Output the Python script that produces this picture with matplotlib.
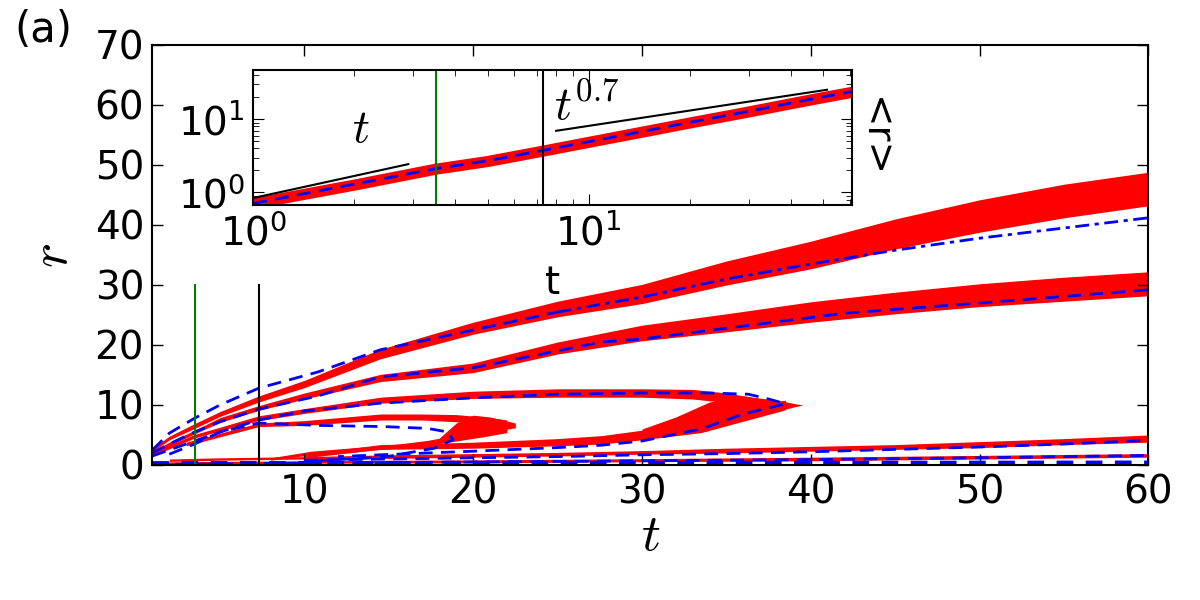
import numpy as np
import matplotlib
matplotlib.use("Agg")
import matplotlib.pyplot as plt

plt.rcParams['mathtext.fontset'] = 'cm'
plt.rcParams['xtick.direction'] = 'in'
plt.rcParams['ytick.direction'] = 'in'
plt.rcParams['xtick.top'] = True
plt.rcParams['ytick.right'] = True

# red particle bands: time, centre radius, half width
t_r1 = [1, 2, 3.5, 5, 7.3, 10, 14.5, 20, 25, 30, 35, 40, 45, 50, 55, 60]
r_r1 = [2.5, 4.5, 6.5, 8.5, 11, 13.5, 18.5, 22.8, 26, 28.5, 32, 35, 38.5, 41.5, 44, 46]
w_r1 = [0.3, 0.3, 0.4, 0.4, 0.5, 0.6, 0.8, 1.0, 1.3, 1.6, 2.0, 2.3, 2.5, 2.7, 2.8, 2.8]

t_r2 = [1, 2, 3.5, 5, 7.3, 10, 14.5, 20, 25, 30, 35, 40, 45, 50, 55, 60]
r_r2 = [2, 3.5, 5.5, 7.5, 9.5, 11.5, 14.5, 16.2, 19.5, 22, 23.7, 25.5, 27, 28.3, 29.3, 30.2]
w_r2 = [0.3, 0.3, 0.3, 0.4, 0.4, 0.5, 0.6, 0.8, 1.0, 1.3, 1.5, 1.7, 1.8, 1.9, 2.0, 2.0]

t_r3 = [1, 2, 3.5, 5, 7.3, 10, 14.5, 20, 25, 30, 33, 35, 36.5]
r_r3 = [1.8, 3, 4.8, 6, 7.8, 9, 10.8, 11.7, 12, 12, 11.8, 11.2, 10.5]
w_r3 = [0.3, 0.3, 0.3, 0.3, 0.4, 0.4, 0.5, 0.6, 0.7, 0.7, 0.8, 0.8, 0.8]

t_r3b = [10, 14.5, 20, 25, 27.6, 30, 33.5, 36, 38.5]
r_r3b = [1.5, 3, 3.3, 3.8, 4.2, 5, 6.4, 8.5, 10]
w_r3b = [0.3, 0.4, 0.5, 0.6, 0.7, 0.8, 1.0, 1.2, 0.8]

t_blob2 = [30, 32, 34, 36, 38, 39.5]
lo_blob2 = [5.5, 6.3, 7, 8, 9, 10]
hi_blob2 = [6.0, 8.0, 10.5, 11.5, 10.8, 10]

t_r4 = [3, 5, 7.3, 10, 14.5, 17, 19, 21, 22]
r_r4 = [3.5, 5, 6.7, 7, 8, 8, 7.8, 7.3, 7]
w_r4 = [0.3, 0.3, 0.3, 0.4, 0.5, 0.5, 0.6, 0.6, 0.5]

t_r4b = [8, 10.4, 13, 15, 17.3, 19, 20.6, 22]
r_r4b = [1, 2, 2.6, 3, 3.7, 4.5, 5.3, 6]
w_r4b = [0.2, 0.3, 0.3, 0.3, 0.4, 0.5, 0.6, 0.6]

t_blob1 = [18, 19, 20, 21, 22.5]
lo_blob1 = [4.0, 4.6, 5.0, 5.5, 6.2]
hi_blob1 = [4.5, 7.0, 8.3, 8.0, 7.0]

t_r5 = [2, 5, 10, 15, 20, 25, 30, 35, 40, 45, 50, 55, 60]
r_r5 = [0.8, 1, 1.2, 1.4, 1.6, 1.8, 2.1, 2.4, 2.7, 3.0, 3.4, 3.9, 4.4]
w_r5 = [0.2, 0.2, 0.2, 0.3, 0.3, 0.3, 0.3, 0.4, 0.4, 0.4, 0.5, 0.5, 0.6]

t_r6 = [1, 10, 20, 30, 40, 50, 60]
r_r6 = [0.3, 0.5, 0.6, 0.8, 1.0, 1.3, 1.6]
w_r6 = [0.2, 0.2, 0.25, 0.25, 0.3, 0.3, 0.3]

# blue mean-field curves
t_b1 = [1, 2, 3.5, 5, 7.3, 10.8, 14.5, 20, 25]
r_b1 = [2.5, 5.3, 7.8, 10, 12.8, 15.5, 19.2, 22.5, 25.5]
t_b1late = [25, 30, 35, 40, 45, 50, 55, 60]
r_b1late = [25.5, 28, 31, 33.5, 35.8, 37.8, 39.5, 41.2]

t_b2 = [1, 2, 3.5, 5, 7.3, 10.8, 14.5, 20, 27.6, 30, 35, 42, 50, 60]
r_b2 = [2, 3.5, 5.5, 7.2, 9.3, 11.5, 14.7, 16.2, 20.5, 21, 22.8, 25.3, 27, 29.2]

t_b3 = [1, 2, 3.5, 5, 7.3, 10, 14.5, 20, 25, 30, 34, 36.3, 37.5, 38.5, 36, 33.5, 30, 27.6, 25, 20, 14.5, 12]
r_b3 = [1.5, 2.5, 4, 5.5, 7.5, 9, 10.3, 11.2, 11.8, 12, 12, 11.8, 11, 10.2, 8.5, 6, 4, 3.3, 2.9, 2.3, 1.7, 1.4]

t_b4 = [2, 3.5, 5, 7.3, 10.8, 14.7, 17.3, 18.5, 18.8, 17.7, 14.7, 12, 10]
r_b4 = [1.8, 3.5, 5.5, 7.0, 6.6, 6.4, 6.1, 5.5, 4.2, 2.8, 1.3, 0.9, 0.6]

t_b5 = [10, 15, 20, 25, 30, 35, 40, 45, 50, 55, 60]
r_b5 = [0.8, 1, 1.2, 1.4, 1.7, 1.9, 2.2, 2.6, 3, 3.5, 4.1]

t_b6 = [1, 10, 20, 30, 40, 50, 60]
r_b6 = [0.1, 0.3, 0.5, 0.7, 0.9, 1.2, 1.6]

t_b7 = [1, 20, 40, 60]
r_b7 = [0.3, 0.35, 0.35, 0.4]

t_green = 3.5
t_black = 7.3

# inset: mean radius
t_mean = [1, 2, 3.5, 5, 7.3, 10, 15, 20, 30, 40, 50, 61]
r_mean = [0.7, 1.26, 2.08, 2.65, 3.67, 4.84, 6.9, 8.9, 12.6, 16.3, 19.8, 23.4]
r_mean_mf = [0.71, 1.3, 2.12, 2.72, 3.76, 4.95, 7.05, 9.1, 12.9, 16.7, 20.3, 24.0]
t_lin = [1, 2.9]
r_lin = [0.84, 2.44]
t_p07 = [8.0, 51.4]
r_p07 = [6.97, 25.4]

fig = plt.figure(figsize=(12, 6), dpi=100)
ax = fig.add_axes([0.127, 0.225, 0.83, 0.70])

bands = [(t_r1, r_r1, w_r1), (t_r2, r_r2, w_r2), (t_r3, r_r3, w_r3), (t_r3b, r_r3b, w_r3b),
         (t_r4, r_r4, w_r4), (t_r4b, r_r4b, w_r4b), (t_r5, r_r5, w_r5), (t_r6, r_r6, w_r6)]
for t, r, w in bands:
    t = np.array(t); r = np.array(r); w = np.array(w)
    ax.fill_between(t, r - w, r + w, color='red', lw=0)
ax.fill_between(t_blob2, lo_blob2, hi_blob2, color='red', lw=0)
ax.fill_between(t_blob1, lo_blob1, hi_blob1, color='red', lw=0)

kw = dict(color='blue', lw=2, dashes=(5, 3))
ax.plot(t_b1, r_b1, **kw)
ax.plot(t_b1late, r_b1late, color='blue', lw=2, dashes=(5, 2, 1.5, 2))
ax.plot(t_b2, r_b2, **kw)
ax.plot(t_b3, r_b3, **kw)
ax.plot(t_b4, r_b4, **kw)
ax.plot(t_b5, r_b5, **kw)
ax.plot(t_b6, r_b6, **kw)
ax.plot(t_b7, r_b7, color='blue', lw=3, dashes=(4, 3))

ax.plot([t_green, t_green], [0, 30], color='green', lw=1.5)
ax.plot([t_black, t_black], [0, 30], color='black', lw=1.5)

ax.set_xlim(1, 60)
ax.set_ylim(0, 70)
ax.set_xticks([10, 20, 30, 40, 50, 60])
ax.set_yticks(range(0, 71, 10))
ax.tick_params(labelsize=28, length=8, width=1, pad=6)
for s in ax.spines.values():
    s.set_linewidth(1.5)
ax.set_xlabel('$t$', fontsize=38, labelpad=-2)
ax.set_ylabel('$r$', fontsize=38, labelpad=12)

fig.text(0.012, 0.985, '(a)', fontsize=30, va='top', ha='left')

# inset
axi = fig.add_axes([0.211, 0.658, 0.499, 0.225])
axi.set_xscale('log')
axi.set_yscale('log')
axi.plot(t_mean, r_mean, color='red', lw=8, solid_capstyle='butt')
axi.plot(t_mean, r_mean_mf, color='blue', lw=2, dashes=(5, 3))
axi.plot(t_lin, r_lin, color='black', lw=1.5)
axi.plot(t_p07, r_p07, color='black', lw=1.5)
axi.axvline(t_green, color='green', lw=1.5)
axi.axvline(t_black, color='black', lw=1.5)
axi.text(2.1, 3.6, '$t$', fontsize=34, ha='center', va='bottom')
axi.text(7.9, 7.3, '$t^{0.7}$', fontsize=34, ha='left', va='bottom')
axi.set_xlim(1, 61)
axi.set_ylim(0.67, 47)
axi.tick_params(which='major', labelsize=28, length=8, pad=6)
axi.tick_params(which='minor', length=4)
for s in axi.spines.values():
    s.set_linewidth(1.5)
axi.set_xlabel('t', fontsize=28, labelpad=8)
axi.yaxis.set_label_position('right')
axi.set_ylabel('<r>', fontsize=28, rotation=270, labelpad=30)

fig.savefig('out.png', dpi=100)
